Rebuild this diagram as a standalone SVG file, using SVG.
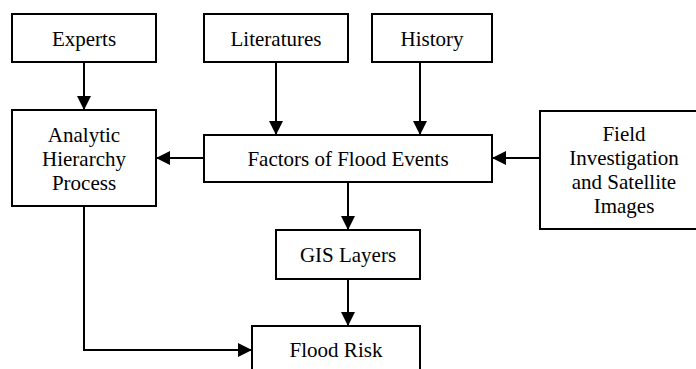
<svg xmlns="http://www.w3.org/2000/svg" width="696" height="369" viewBox="0 0 696 369">
<style>
.box{fill:#fff;stroke:#000;stroke-width:2}
.t{font-family:'Liberation Serif','DejaVu Serif',serif;font-size:21px;fill:#000;text-anchor:middle}
.c{fill:none;stroke:#000;stroke-width:2}
</style>
<defs>
<marker id="ah" markerUnits="userSpaceOnUse" markerWidth="14" markerHeight="14" refX="14" refY="7" orient="auto">
<path d="M0,0 L14,7 L0,14 z" fill="#000"/>
</marker>
</defs>
<rect width="696" height="369" fill="#fff"/>
<g id="connectors">
<path class="c" d="M84,62 V110" marker-end="url(#ah)"/>
<path class="c" d="M276,62 V135" marker-end="url(#ah)"/>
<path class="c" d="M420,62 V135" marker-end="url(#ah)"/>
<path class="c" d="M204,158 H156" marker-end="url(#ah)"/>
<path class="c" d="M540,158 H492" marker-end="url(#ah)"/>
<path class="c" d="M348,182 V230" marker-end="url(#ah)"/>
<path class="c" d="M348,279 V326" marker-end="url(#ah)"/>
<path class="c" d="M84,206 V350 H252" marker-end="url(#ah)"/>
</g>
<g id="experts">
<rect class="box" x="12" y="14" width="144" height="48"/>
<text class="t" font-family="Liberation Serif, serif" x="84" y="46">Experts</text>
</g>
<g id="literatures">
<rect class="box" x="204" y="14" width="144" height="48"/>
<text class="t" x="276" y="46">Literatures</text>
</g>
<g id="history">
<rect class="box" x="372" y="14" width="120" height="48"/>
<text class="t" x="432" y="46">History</text>
</g>
<g id="ahp">
<rect class="box" x="12" y="110" width="144" height="96"/>
<text class="t" x="84" y="142">Analytic</text>
<text class="t" x="84" y="166">Hierarchy</text>
<text class="t" x="84" y="190">Process</text>
</g>
<g id="factors">
<rect class="box" x="204" y="135" width="288" height="47"/>
<text class="t" x="348" y="166">Factors of Flood Events</text>
</g>
<g id="field">
<rect class="box" x="540" y="111" width="168" height="118"/>
<text class="t" x="624" y="141">Field</text>
<text class="t" x="624" y="165">Investigation</text>
<text class="t" x="624" y="189">and Satellite</text>
<text class="t" x="624" y="213">Images</text>
</g>
<g id="gis">
<rect class="box" x="276" y="230" width="144" height="49"/>
<text class="t" x="348" y="262">GIS Layers</text>
</g>
<g id="floodrisk">
<rect class="box" x="252" y="326" width="168" height="60"/>
<text class="t" x="336" y="357">Flood Risk</text>
</g>
</svg>
